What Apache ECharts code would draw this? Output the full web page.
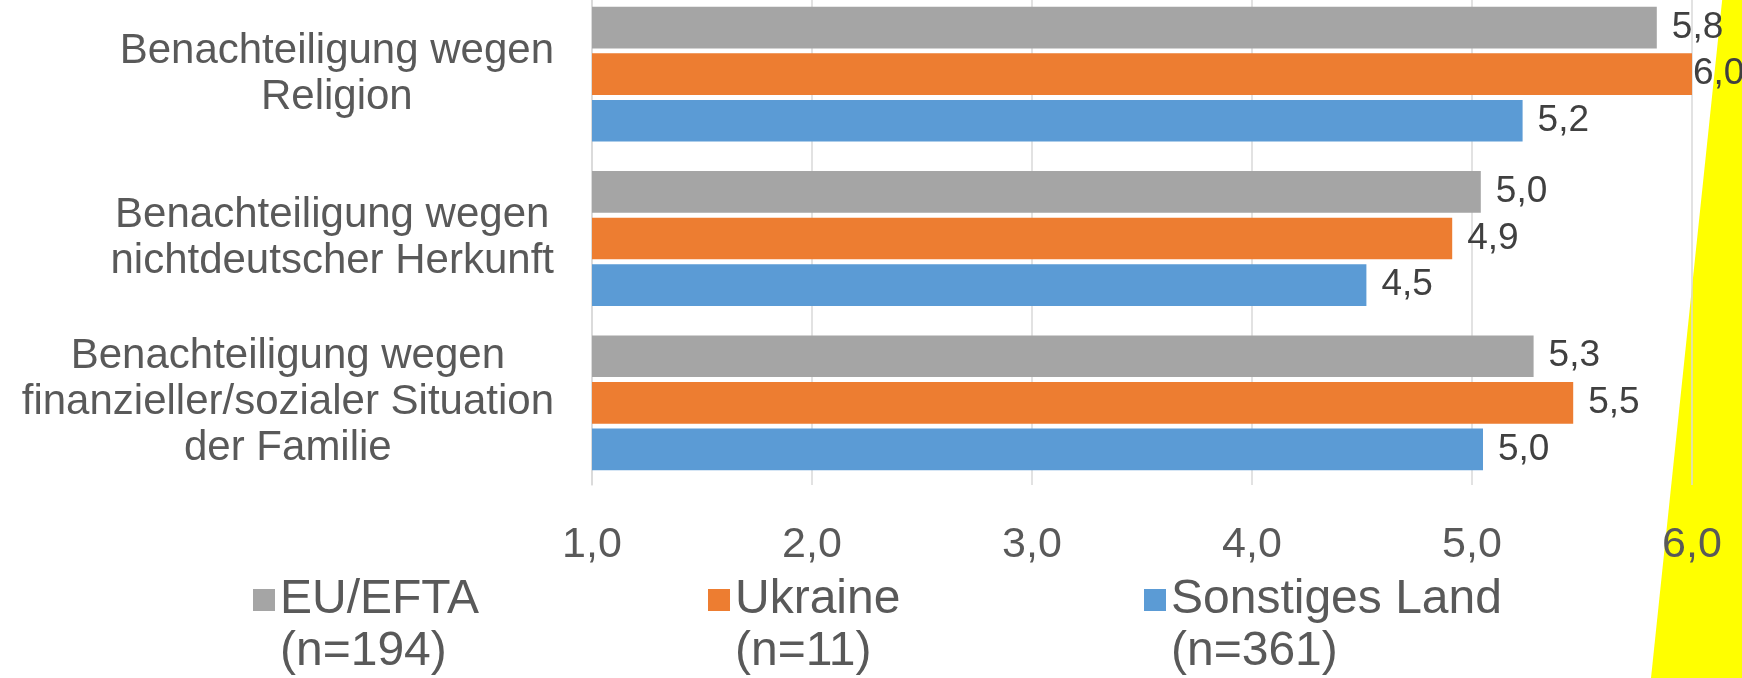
<!DOCTYPE html>
<html>
<head>
<meta charset="utf-8">
<script src="https://cdn.jsdelivr.net/npm/echarts@6/dist/echarts.min.js"></script>
<style>
  html, body { margin: 0; padding: 0; background: #fff; overflow: hidden; }
  /* the plot area starts a little above the picture edge, so the chart box is shifted up */
  #chart { width: 1742px; height: 686px; margin-top: -8px; }
</style>
</head>
<body>
<div id="chart"></div>
<script>
const categories = [
  'Benachteiligung wegen\nReligion',
  'Benachteiligung wegen\nnichtdeutscher Herkunft',
  'Benachteiligung wegen\nfinanzieller/sozialer Situation\nder Familie'
]
const seriesNames = ['EU/EFTA\n(n=194)', 'Ukraine\n(n=11)', 'Sonstiges Land\n(n=361)']
const euValues = [5.84, 5.04, 5.28]
const ukraineValues = [6.0, 4.91, 5.46]
const otherValues = [5.23, 4.52, 5.05]
const colors = ['#A5A5A5', '#ED7D31', '#5B9BD5']

const FONT = '"Liberation Sans", Arial, sans-serif'
const fmt = v => v.toFixed(1).replace('.', ',')

const chart = echarts.init(document.getElementById('chart'))

// labels that would run past the axis end sit right at the bar end
const toData = values => values.map(v => v >= 6 ? { value: v, label: { distance: 1 } } : v)

function barSeries(name, values, color) {
  return {
    name,
    type: 'bar',
    data: toData(values),
    itemStyle: { color },
    barGap: '12%',
    barCategoryGap: '18%',
    label: {
      show: true,
      position: 'right',
      distance: 15,
      fontSize: 37,
      fontFamily: FONT,
      color: '#404040',
      formatter: p => fmt(p.value)
    }
  }
}

const legendLefts = [253, 708, 1144]

chart.setOption({
  animation: false,
  graphic: [{
    type: 'polygon',
    z: -10,
    shape: { points: [[1723, 0], [1742, 0], [1742, 686], [1651, 686]] },
    style: { fill: '#FFFF00' }
  }],
  grid: { left: 592, right: 50, top: 0, bottom: 193 },
  xAxis: {
    type: 'value',
    min: 1,
    max: 6,
    interval: 1,
    axisLine: { show: false },
    axisTick: { show: false },
    splitLine: { lineStyle: { color: '#D9D9D9', width: 1.5 } },
    axisLabel: {
      margin: 39,
      fontSize: 43,
      fontFamily: FONT,
      color: '#595959',
      formatter: v => fmt(v)
    }
  },
  yAxis: {
    type: 'category',
    inverse: true,
    data: categories,
    axisLine: { show: true, lineStyle: { color: '#D9D9D9', width: 1.5 } },
    axisTick: { show: false },
    axisLabel: {
      margin: 38,
      align: 'right',
      formatter: v => v.split('\n').map(s => '{c|' + s + '}').join('\n'),
      rich: {
        c: { align: 'center', fontSize: 42, lineHeight: 46, fontFamily: FONT, color: '#595959' }
      }
    }
  },
  // blank first line keeps the marker level with the first text line
  legend: seriesNames.map((name, i) => ({
    data: [name],
    left: legendLefts[i],
    top: 530,
    padding: 0,
    itemWidth: 22,
    itemHeight: 22,
    icon: 'rect',
    formatter: n => '\n' + n,
    textStyle: {
      fontSize: 48,
      lineHeight: 52,
      fontFamily: FONT,
      color: '#595959'
    }
  })),
  series: [
    barSeries(seriesNames[0], euValues, colors[0]),
    barSeries(seriesNames[1], ukraineValues, colors[1]),
    barSeries(seriesNames[2], otherValues, colors[2])
  ]
})
</script>
</body>
</html>
